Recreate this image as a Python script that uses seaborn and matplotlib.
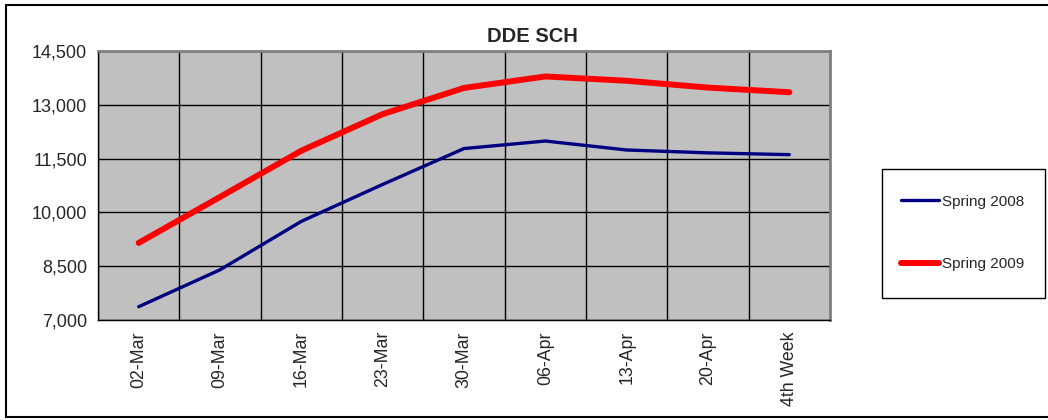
import matplotlib
matplotlib.use('Agg')
import matplotlib.pyplot as plt
import matplotlib.ticker as mticker
from matplotlib.patches import Rectangle
from matplotlib.lines import Line2D
import pandas as pd
import seaborn as sns

weeks = ['02-Mar', '09-Mar', '16-Mar', '23-Mar', '30-Mar',
         '06-Apr', '13-Apr', '20-Apr', '4th Week']
spring_2008 = [7370, 8400, 9750, 10780, 11780, 11990, 11740, 11660, 11610]
spring_2009 = [9150, 10430, 11720, 12740, 13470, 13790, 13670, 13480, 13350]
y_ticks = [7000, 8500, 10000, 11500, 13000, 14500]

sns.set_style('white')
plt.rcParams['font.family'] = ['Liberation Sans', 'DejaVu Sans']

data = pd.DataFrame({'Week': weeks, 'Spring 2008': spring_2008, 'Spring 2009': spring_2009})

fig = plt.figure(figsize=(10.48, 4.2), dpi=100)
ax = fig.add_axes([98 / 1048, 1 - 320 / 420, (830 - 98) / 1048, (320 - 51) / 420])
ax.set_facecolor('#C0C0C0')

sns.lineplot(data=data, x='Week', y='Spring 2008', ax=ax, color='#000080',
             linewidth=2.4, sort=False, solid_capstyle='round', solid_joinstyle='round')
sns.lineplot(data=data, x='Week', y='Spring 2009', ax=ax, color='#FF0000',
             linewidth=4.3, sort=False, solid_capstyle='round', solid_joinstyle='round')

ax.set_xlim(-0.5, len(weeks) - 0.5)
ax.set_ylim(7000, 14500)
ax.set_yticks(y_ticks)
ax.yaxis.set_major_formatter(mticker.StrMethodFormatter('{x:,.0f}'))
ax.set_xticks(range(len(weeks)))
ax.set_xticklabels(weeks, rotation=90)
ax.set_xticks([i - 0.5 for i in range(len(weeks) + 1)], minor=True)
ax.tick_params(axis='x', which='major', length=0, labelsize=12.8, pad=8)
ax.tick_params(axis='x', which='minor', length=5, width=1, direction='out', color='black')
ax.tick_params(axis='y', length=5, width=1, direction='out', color='black', labelsize=13, pad=3)
ax.grid(True, axis='y', which='major', color='black', linewidth=1)
ax.grid(True, axis='x', which='minor', color='black', linewidth=1)
ax.grid(False, axis='x', which='major')
ax.set_axisbelow(True)
ax.set_xlabel('')
ax.set_ylabel('')

for side in ['top', 'right']:
    ax.spines[side].set_color('#808080')
    ax.spines[side].set_linewidth(2)
for side in ['left', 'bottom']:
    ax.spines[side].set_color('black')
    ax.spines[side].set_linewidth(1)

fig.text(532 / 1048, 1 - 37 / 420, 'DDE SCH', ha='center', va='center',
         fontsize=14.5, fontweight='bold')

# legend box
fig.patches.append(Rectangle((882 / 1048, 1 - 298 / 420), (1045 - 882) / 1048, (298 - 169) / 420,
                             transform=fig.transFigure, fill=False, edgecolor='black', linewidth=1))
handles = [Line2D([], [], color='#000080', linewidth=2.4, solid_capstyle='round'),
           Line2D([], [], color='#FF0000', linewidth=4.3, solid_capstyle='round')]
fig.legend(handles, ['Spring 2008', 'Spring 2009'], loc='center',
           bbox_to_anchor=(963 / 1048, 1 - 233 / 420), frameon=False, fontsize=11,
           handlelength=2.5, handletextpad=0.2, labelspacing=3.2)

# outer chart border (no right edge visible)
for xs, ys in [((6, 1048), (5, 5)), ((6, 6), (5, 417)), ((6, 1048), (417, 417))]:
    fig.add_artist(Line2D([x / 1048 for x in xs], [1 - y / 420 for y in ys],
                          transform=fig.transFigure, color='black', linewidth=1.5))

fig.savefig('out.png', dpi=100)
